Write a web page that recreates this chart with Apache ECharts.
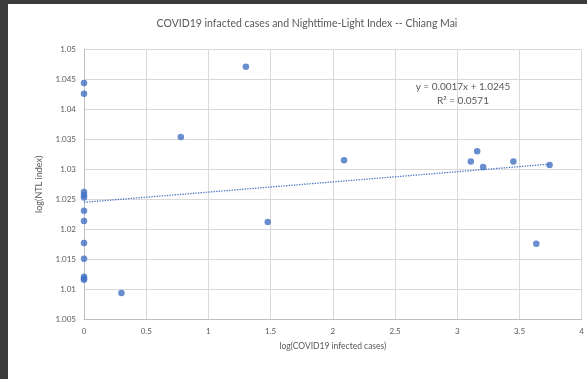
<!DOCTYPE html>
<html>
<head>
<meta charset="utf-8">
<script src="https://cdn.jsdelivr.net/npm/echarts@6/dist/echarts.min.js"></script>
<style>
html,body{margin:0;padding:0;background:#fff;}
#c{width:587px;height:379px;}
</style>
</head>
<body>
<div id="c"></div>
<script>
// Data
const xValues = [0, 0, 0, 0, 0, 0, 0, 0, 0, 0, 0, 0, 0.301, 0.778, 1.301, 1.477, 2.09, 3.109, 3.16, 3.208, 3.451, 3.635, 3.742];
const yValues = [1.0444, 1.0426, 1.0262, 1.0257, 1.0253, 1.0231, 1.0214, 1.0177, 1.0151, 1.0121, 1.0118, 1.0116, 1.0094, 1.0354, 1.0471, 1.0212, 1.0315, 1.0313, 1.0330, 1.0304, 1.0313, 1.0176, 1.0307];
const xTicks = [0, 0.5, 1, 1.5, 2, 2.5, 3, 3.5, 4];
const yTicks = [1.005, 1.01, 1.015, 1.02, 1.025, 1.03, 1.035, 1.04, 1.045, 1.05];
const slope = 0.0017;
const intercept = 1.0245;
const rSquared = 0.0571;
const titleText = 'COVID19 infacted cases and Nighttime-Light Index -- Chiang Mai';
const xName = 'log(COVID19 infected cases)';
const yName = 'log(NTL index)';

const points = xValues.map((x, i) => [x, yValues[i]]);
const xMax = Math.max(...xValues);
const trend = [[0, intercept], [xMax, intercept + slope * xMax]];

const FONT = 'Lato, "Open Sans", sans-serif';
const TXT = '#595959';

const chart = echarts.init(document.getElementById('c'), null, {renderer: 'canvas'});
chart.setOption({
  animation: false,
  backgroundColor: '#fff',
  title: {
    text: titleText,
    left: 302,
    textAlign: 'center',
    top: 13,
    textStyle: {fontFamily: FONT, fontSize: 10.5, fontWeight: 'normal', color: TXT}
  },
  grid: {left: 84, right: 5, top: 49.3, bottom: 59.7, containLabel: false},
  xAxis: {
    type: 'value',
    min: 0, max: 4, interval: 0.5,
    name: xName,
    nameLocation: 'middle',
    nameGap: 22,
    nameTextStyle: {fontFamily: FONT, fontSize: 8.5, color: TXT},
    axisLine: {show: true, lineStyle: {color: '#bfbfbf', width: 1}},
    axisTick: {show: false},
    axisLabel: {fontFamily: FONT, fontSize: 8, color: TXT, margin: 8,
      formatter: v => {
        const t = xTicks.find(x => Math.abs(x - v) < 1e-9);
        return t === undefined ? '' : String(t);
      }},
    splitLine: {show: true, lineStyle: {color: '#d9d9d9', width: 1}}
  },
  yAxis: {
    type: 'value',
    min: 1.005, max: 1.05, interval: 0.005,
    name: yName,
    nameLocation: 'middle',
    nameGap: 40,
    nameTextStyle: {fontFamily: FONT, fontSize: 9, color: TXT},
    axisLine: {show: true, lineStyle: {color: '#bfbfbf', width: 1}},
    axisTick: {show: false},
    axisLabel: {fontFamily: FONT, fontSize: 8, color: TXT, margin: 8,
      formatter: v => {
        const t = yTicks.find(y => Math.abs(y - v) < 1e-9);
        return t === undefined ? '' : String(t);
      }},
    splitLine: {show: true, lineStyle: {color: '#d9d9d9', width: 1}}
  },
  series: [
    {
      type: 'line',
      data: trend,
      symbol: 'none',
      lineStyle: {color: '#4472C4', width: 1.3, type: [1.3, 1.3]},
      z: 2,
      silent: true
    },
    {
      type: 'scatter',
      data: points,
      symbol: 'circle',
      symbolSize: 6.5,
      itemStyle: {color: '#4472C4'},
      z: 3
    }
  ],
  graphic: [
    {type: 'rect', left: 0, top: 0, shape: {width: 8, height: 379}, style: {fill: '#3b3b3b'}, z: 100},
    {type: 'rect', left: 0, top: 0, shape: {width: 587, height: 4}, style: {fill: '#3b3b3b'}, z: 100},
    {type: 'text', x: 463, y: 87, z: 50,
      style: {text: 'y = ' + slope.toFixed(4) + 'x + ' + intercept.toFixed(4),
        font: '10px ' + FONT, fill: TXT, align: 'center', verticalAlign: 'middle'}},
    {type: 'text', x: 463, y: 101, z: 50,
      style: {text: 'R² = ' + rSquared.toFixed(4),
        font: '10px ' + FONT, fill: TXT, align: 'center', verticalAlign: 'middle'}}
  ]
});
</script>
</body>
</html>
